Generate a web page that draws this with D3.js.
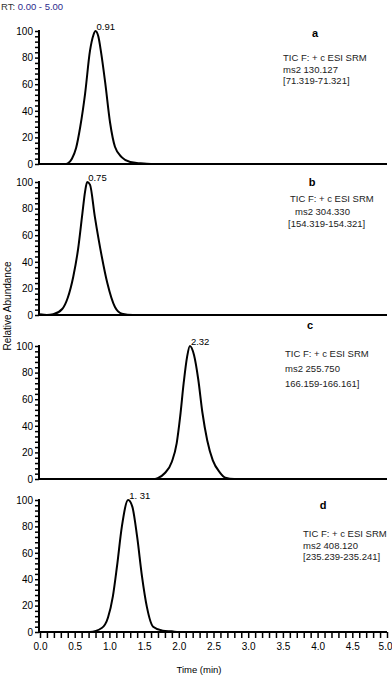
<!DOCTYPE html>
<html>
<head>
<meta charset="utf-8">
<script src="https://cdn.jsdelivr.net/npm/d3@7"></script>
<style>
  body { margin: 0; background: #fff; }
  svg text { font-family: "Liberation Sans", Arial, sans-serif; }
</style>
</head>
<body>
<svg id="chart" width="392" height="677"></svg>
<script>
// chromatogram traces, [time (min), relative abundance]
const traceA = [[0,0],[0.36,0],[0.40,0.5],[0.46,4],[0.52,12],[0.58,28],[0.65,53],[0.72,85],[0.77,97],[0.80,100],[0.84,96],[0.88,84],[0.94,61],[1.01,31],[1.08,13],[1.18,5],[1.30,1.5],[1.45,0.5],[1.6,0],[5,0]];
const traceB = [[0,0.5],[0.1,0],[0.19,0.5],[0.32,4.5],[0.40,13],[0.48,29],[0.55,50],[0.61,76],[0.65,93],[0.68,100],[0.72,98],[0.79,74],[0.89,44],[0.97,24],[1.08,6],[1.18,1],[1.34,0],[5,0]];
const traceC = [[0,0],[1.66,0],[1.69,0.5],[1.80,4.5],[1.90,13],[1.97,27],[2.02,47],[2.07,72],[2.12,92],[2.16,100],[2.22,93],[2.28,75],[2.34,50],[2.41,29],[2.49,14],[2.59,5],[2.67,1],[2.8,0],[5,0]];
const traceD = [[0,0],[0.72,0],[0.89,3],[0.98,11],[1.05,27],[1.11,50],[1.18,80],[1.27,100],[1.33,95],[1.40,72],[1.47,42],[1.54,19],[1.63,4],[1.77,1],[1.90,0.5],[2.0,0],[5,0]];

const panelLetters = ["a", "b", "c", "d"];
const peakLabels = ["0.91", "0.75", "2.32", "1. 31"];
const peakTimes = [0.80, 0.68, 2.16, 1.27];
const infoA = ["TIC F: + c ESI SRM", "ms2 130.127", "[71.319-71.321]"];
const infoB = ["TIC F: + c ESI SRM", "ms2 304.330", "[154.319-154.321]"];
const infoC = ["TIC F: + c ESI SRM", "ms2 255.750", "166.159-166.161]"];
const infoD = ["TIC F: + c ESI SRM", "ms2 408.120", "[235.239-235.241]"];
const yTicks = [0, 20, 40, 60, 80, 100];
const xTicks = [0, 0.5, 1.0, 1.5, 2.0, 2.5, 3.0, 3.5, 4.0, 4.5, 5.0];

const traces = [traceA, traceB, traceC, traceD];
const infos = [infoA, infoB, infoC, infoD];

// layout
const axisX = 39;
const panelBox = [
  {top: 31, bottom: 164, letterX: 315, letterY: 37, infoX: 283, infoY: 61, gap: 11.5},
  {top: 182, bottom: 315, letterX: 312, letterY: 186, infoX: 290, infoY: 202, gap: 12.5, indent: [0, 5, -2]},
  {top: 346, bottom: 479, letterX: 310, letterY: 329, infoX: 285, infoY: 357, gap: 15},
  {top: 500, bottom: 632, letterX: 323, letterY: 509, infoX: 303, infoY: 537, gap: 11.5}
];

const svg = d3.select("#chart");
const x = d3.scaleLinear().domain([0, 5]).range([40, 387]);

const header = svg.append("text").attr("x", 1).attr("y", 10).attr("font-size", 9.5);
header.append("tspan").attr("fill", "#333").text("RT: ");
header.append("tspan").attr("fill", "#2b2b8c").text("0.00 - 5.00");

traces.forEach((trace, i) => {
  const box = panelBox[i];
  const y = d3.scaleLinear().domain([0, 100]).range([box.bottom, box.top]);
  const g = svg.append("g");

  // y axis with minor ticks
  const yAxis = d3.axisLeft(y).tickValues(d3.range(0, 101, 4)).tickSize(4)
    .tickFormat(d => yTicks.includes(d) ? d : "");
  const ya = g.append("g").attr("transform", `translate(${axisX},0)`).call(yAxis);
  ya.select(".domain").attr("stroke-width", 2).attr("d", `M0,${box.bottom + 1}V${box.top - 1}`);
  ya.selectAll(".tick line").attr("stroke-width", 1.5);
  ya.selectAll(".tick text").attr("font-size", 10).attr("x", -6)
    .attr("font-family", "'Liberation Sans', Arial, sans-serif");

  // baseline
  g.append("line").attr("x1", axisX).attr("x2", x(5)).attr("y1", box.bottom).attr("y2", box.bottom)
    .attr("stroke", "#000").attr("stroke-width", 2.2);

  // trace
  const line = d3.line().x(d => x(d[0])).y(d => y(d[1])).curve(d3.curveMonotoneX);
  g.append("path").datum(trace).attr("d", line).attr("fill", "none")
    .attr("stroke", "#000").attr("stroke-width", 2).attr("stroke-linejoin", "round");

  // peak label
  g.append("text").attr("x", x(peakTimes[i]) + 1).attr("y", y(100) - 1)
    .attr("font-size", 9.5).text(peakLabels[i]);

  // panel letter
  g.append("text").attr("x", box.letterX).attr("y", box.letterY)
    .attr("font-size", 11).attr("font-weight", "bold").attr("text-anchor", "middle")
    .text(panelLetters[i]);

  // info text
  infos[i].forEach((t, k) => {
    const dx = box.indent ? box.indent[k] : 0;
    g.append("text").attr("x", box.infoX + dx).attr("y", box.infoY + k * box.gap)
      .attr("font-size", 9.5).attr("fill", "#222").text(t);
  });

  // x axis only on last panel
  if (i === traces.length - 1) {
    const xAxis = d3.axisBottom(x).tickValues(d3.range(0, 51).map(v => v / 10)).tickSize(6)
      .tickFormat(d => xTicks.some(t => Math.abs(t - d) < 1e-6) ? d.toFixed(1) : "");
    const xa = g.append("g").attr("transform", `translate(0,${box.bottom})`).call(xAxis);
    xa.select(".domain").remove();
    xa.selectAll(".tick line").attr("stroke-width", 1.5);
    xa.selectAll(".tick text").attr("font-size", 10).attr("y", 11)
      .attr("font-family", "'Liberation Sans', Arial, sans-serif");
    // keep the last label inside the frame
    xa.selectAll(".tick text").filter(d => d === 5).attr("text-anchor", "end").attr("x", 5);
  }
});

svg.append("text").attr("x", 199).attr("y", 673).attr("font-size", 9.5)
  .attr("text-anchor", "middle").text("Time (min)");

svg.append("text").attr("transform", "translate(11,306) rotate(-90)")
  .attr("font-size", 10).attr("text-anchor", "middle").text("Relative Abundance");
</script>
</body>
</html>
